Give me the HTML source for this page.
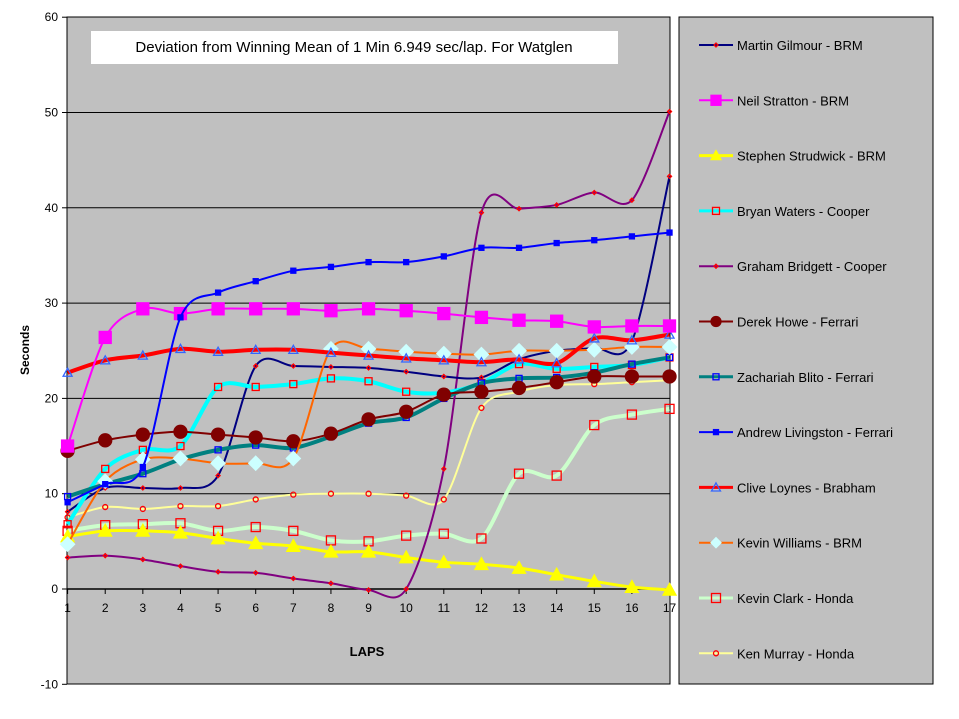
<!DOCTYPE html>
<html><head><meta charset="utf-8"><style>
body{margin:0;background:#fff;font-family:"Liberation Sans",Arial,sans-serif}
svg{display:block}
text{font-family:"Liberation Sans",Arial,sans-serif}
</style></head><body>
<svg id="chart" width="959" height="719" viewBox="0 0 959 719">
<rect x="0" y="0" width="959" height="719" fill="#fff"/>
<rect x="67" y="17" width="603" height="667" fill="#c0c0c0" stroke="#000" stroke-width="1"/>
<g id="grid"></g>
<g id="axes"></g>
<g id="series"></g>
<rect x="91" y="31" width="527" height="33" fill="#fff"/>
<text x="354" y="52" text-anchor="middle" font-size="15">Deviation from Winning Mean of 1 Min 6.949 sec/lap. For Watglen</text>
<text x="367" y="656" text-anchor="middle" font-size="13" font-weight="bold">LAPS</text>
<text x="29" y="350" text-anchor="middle" font-size="12" font-weight="bold" transform="rotate(-90 29 350)">Seconds</text>
<rect x="679" y="17" width="254" height="667" fill="#c0c0c0" stroke="#000" stroke-width="1"/>
<g id="legend"></g>
</svg>
<script>
const laps = [1,2,3,4,5,6,7,8,9,10,11,12,13,14,15,16,17];
const yTicks = [-10,0,10,20,30,40,50,60];
const names = ["Martin Gilmour - BRM","Neil Stratton - BRM","Stephen Strudwick - BRM","Bryan Waters - Cooper","Graham Bridgett - Cooper","Derek Howe - Ferrari","Zachariah Blito - Ferrari","Andrew Livingston - Ferrari","Clive Loynes - Brabham","Kevin Williams - BRM","Kevin Clark - Honda","Ken Murray - Honda"];
const gilmour = [8.1,10.6,10.6,10.6,11.9,23.4,23.4,23.3,23.2,22.8,22.3,22.2,24.1,25.0,25.3,26.0,43.3];
const stratton = [15.0,26.4,29.4,28.9,29.4,29.4,29.4,29.2,29.4,29.2,28.9,28.5,28.2,28.1,27.5,27.6,27.6];
const strudwick = [5.5,6.1,6.1,5.9,5.3,4.8,4.5,3.9,3.9,3.3,2.8,2.6,2.2,1.5,0.8,0.2,-0.1];
const waters = [6.8,12.6,14.6,15.0,21.2,21.2,21.5,22.1,21.8,20.7,20.6,21.6,23.6,23.1,23.3,23.5,24.3];
const bridgett = [3.3,3.5,3.1,2.4,1.8,1.7,1.1,0.6,-0.1,0.0,12.6,39.5,39.9,40.3,41.6,40.8,50.1];
const howe = [14.5,15.6,16.2,16.5,16.2,15.9,15.5,16.3,17.8,18.6,20.4,20.7,21.1,21.7,22.3,22.3,22.3];
const blito = [9.7,11.0,12.1,13.6,14.6,15.1,14.8,16.0,17.4,18.0,20.0,21.6,22.1,22.2,22.7,23.6,24.3];
const livingston = [9.1,11.0,12.8,28.5,31.1,32.3,33.4,33.8,34.3,34.3,34.9,35.8,35.8,36.3,36.6,37.0,37.4];
const loynes = [22.7,24.0,24.5,25.2,24.9,25.1,25.1,24.8,24.5,24.2,24.0,23.8,24.1,23.7,26.3,26.1,26.7];
const williams = [4.7,11.3,13.6,13.7,13.2,13.2,13.7,25.2,25.2,24.9,24.7,24.6,25.0,25.0,25.1,25.4,25.4];
const clark = [6.1,6.7,6.8,6.9,6.1,6.5,6.1,5.1,5.0,5.6,5.8,5.3,12.1,11.9,17.2,18.3,18.9];
const murray = [7.5,8.6,8.4,8.7,8.7,9.4,9.9,10.0,10.0,9.8,9.4,19.0,20.7,21.4,21.5,21.7,21.9];
const seriesData = [gilmour,stratton,strudwick,waters,bridgett,howe,blito,livingston,loynes,williams,clark,murray];
const lineColors = ["#000080","#ff00ff","#ffff00","#00ffff","#800080","#800000","#008080","#0000ff","#ff0000","#ff6600","#ccffcc","#ffff99"];
const lineWidths = [2,2,3,4,2,2,4,2,4,2,4,2];
const markers = [["diamond",4,"none","#ff0000"],["square",12,"#ff00ff","#ff00ff"],["triangle",13,"#ffff00","#ffff00"],["square",7,"none","#ff0000"],["diamond",4,"none","#ff0000"],["circle",13,"#800000","#800000"],["square",6,"none","#0000ff"],["square",5,"#0000ff","#0000ff"],["triangle",9,"none","#3366ff"],["diamond",14,"#ccffff","#ccffff"],["square",9,"none","#ff0000"],["circle",5,"none","#ff0000"]];

const NS="http://www.w3.org/2000/svg";
const X0=67.6, XS=37.62, Y0=589, YS=9.53;
function xScale(l){return X0+(l-1)*XS;}
function yScale(v){return Y0-v*YS;}
function mk(tag,attrs,parent){const e=document.createElementNS(NS,tag);for(const k in attrs)e.setAttribute(k,attrs[k]);parent.appendChild(e);return e;}

const grid=document.getElementById('grid'), axes=document.getElementById('axes');
yTicks.forEach(t=>{
  if(t>-10&&t<60){const g=mk('line',{x1:67,x2:670,y1:yScale(t),y2:yScale(t),stroke:'#000','stroke-width':1},grid);
  
  }
  const tk=mk('line',{x1:62,x2:67,y1:yScale(t),y2:yScale(t),stroke:'#000'},axes);
  
  
  const tx=mk('text',{x:58,y:yScale(t)+4,'text-anchor':'end','font-size':12},axes);
  tx.textContent=t;
  
  
});
mk('line',{x1:67,x2:670,y1:Y0,y2:Y0,stroke:'#000','stroke-width':1.5},axes);
laps.forEach(l=>{
  const tk=mk('line',{x1:xScale(l),x2:xScale(l),y1:Y0,y2:Y0+5,stroke:'#000'},axes);
  
  
  const tx=mk('text',{x:xScale(l),y:612,'text-anchor':'middle','font-size':12},axes);
  tx.textContent=l;
  
  
});

function smoothPath(pts){
  let d='M'+pts[0][0]+','+pts[0][1];
  for(let i=0;i<pts.length-1;i++){
    const p0=pts[Math.max(0,i-1)],p1=pts[i],p2=pts[i+1],p3=pts[Math.min(pts.length-1,i+2)];
    const t=1/6*0.9;
    const c1=[p1[0]+(p2[0]-p0[0])*t,p1[1]+(p2[1]-p0[1])*t];
    const c2=[p2[0]-(p3[0]-p1[0])*t,p2[1]-(p3[1]-p1[1])*t];
    d+=' C'+c1[0]+','+c1[1]+' '+c2[0]+','+c2[1]+' '+p2[0]+','+p2[1];
  }
  return d;
}
function marker(parent,type,size,fill,stroke,cx,cy){
  const h=size/2;let e;
  if(type==='square')e=mk('rect',{x:cx-h,y:cy-h,width:size,height:size},parent);
  else if(type==='circle')e=mk('circle',{cx:cx,cy:cy,r:h},parent);
  else if(type==='diamond')e=mk('polygon',{points:`${cx},${cy-h} ${cx+h},${cy} ${cx},${cy+h} ${cx-h},${cy}`},parent);
  else e=mk('polygon',{points:`${cx},${cy-h} ${cx+h},${cy+h*0.8} ${cx-h},${cy+h*0.8}`},parent);
  e.setAttribute('fill',fill);e.setAttribute('stroke',stroke);e.setAttribute('stroke-width',1.3);
  return e;
}
const sg=document.getElementById('series');
const order=[10,11,2,4,0,3,6,5,9,8,1,7];
order.forEach(i=>{
  const g=mk('g',{},sg);
  
  
  const pts=seriesData[i].map((v,k)=>[xScale(laps[k]),yScale(v)]);
  const p=mk('path',{d:smoothPath(pts),fill:'none',stroke:lineColors[i],'stroke-width':lineWidths[i],'stroke-linejoin':'round'},g);
  
  
  const m=markers[i];
  pts.forEach(pt=>{
    const e=marker(g,m[0],m[1],m[2],m[3],pt[0],pt[1]);
    
    
  });
});
const lg=document.getElementById('legend');
names.forEach((n,i)=>{
  const y=45+i*55.3;
  const g=mk('g',{},lg);
  
  
  mk('line',{x1:699,x2:733,y1:y,y2:y,stroke:lineColors[i],'stroke-width':Math.min(lineWidths[i],3)},g);
  const m=markers[i];
  marker(g,m[0],Math.min(m[1],10),m[2],m[3],716,y);
  const t=mk('text',{x:737,y:y+5,'font-size':13},g);
  t.textContent=n;
});
</script>
</body></html>
